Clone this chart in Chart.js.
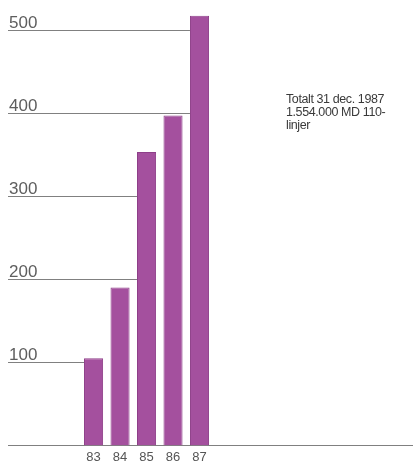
<!DOCTYPE html>
<html>
<head>
<meta charset="utf-8">
<script src="https://cdn.jsdelivr.net/npm/chart.js@4/dist/chart.umd.min.js"></script>
<style>
  html, body { margin: 0; padding: 0; background: #fff; }
  #wrap { position: relative; width: 413px; height: 463px; }
  #note {
    position: absolute; left: 286px; top: 93px;
    font-family: "Liberation Sans", Arial, sans-serif; font-size: 12.5px;
    line-height: 13px; color: #3a3a3a; letter-spacing: -0.4px;
  }
</style>
</head>
<body>
<div id="wrap">
  <canvas id="chart" width="413" height="463"></canvas>
  <div id="note">Totalt 31 dec. 1987<br>1.554.000 MD 110-<br>linjer</div>
</div>
<script>
const years = ['83', '84', '85', '86', '87'];
const lines = [105, 190, 353, 397, 517];
const yTicks = [0, 100, 200, 300, 400, 500];

const barColor = '#a4509e';
const lineColor = '#808080';

// grid lines run from the left edge up to the first bar tall enough to cover them,
// tick labels sit just above each line
const gridPlugin = {
  id: 'stopGrid',
  beforeDatasetsDraw(chart) {
    const ctx = chart.ctx;
    const y = chart.scales.y;
    const left = chart.chartArea.left;
    const bars = chart.getDatasetMeta(0).data;
    ctx.save();
    ctx.strokeStyle = lineColor;
    ctx.lineWidth = 1;
    ctx.fillStyle = '#5e5e5e';
    ctx.font = '17px "Liberation Sans", Arial, sans-serif';
    ctx.textBaseline = 'alphabetic';
    yTicks.forEach(v => {
      const py = Math.round(y.getPixelForValue(v)) + 0.5;
      let xEnd = chart.width;
      if (v > 0) {
        const i = lines.findIndex(d => d >= v);
        xEnd = i >= 0 ? bars[i].x - bars[i].width / 2 : chart.width;
        ctx.fillText(String(v), left + 1, py - 3);
      }
      ctx.beginPath();
      ctx.moveTo(left, py);
      ctx.lineTo(xEnd, py);
      ctx.stroke();
    });
    ctx.restore();
  }
};

new Chart(document.getElementById('chart').getContext('2d'), {
  type: 'bar',
  data: {
    datasets: [{
      data: years.map((yr, i) => ({ x: Number(yr), y: lines[i] })),
      backgroundColor: barColor,
      borderColor: '#8e3f89',
      borderWidth: 1,
      barPercentage: 0.72,
      categoryPercentage: 1
    }]
  },
  options: {
    responsive: false,
    animation: false,
    layout: { padding: { left: 8, right: 0, top: 0, bottom: 2 } },
    plugins: { legend: { display: false }, tooltip: { enabled: false } },
    scales: {
      x: {
        type: 'linear',
        offset: false,
        min: 79.77,
        max: 95.06,
        afterBuildTicks: axis => { axis.ticks = years.map(v => ({ value: Number(v) })); },
        grid: { display: false },
        border: { display: false },
        ticks: {
          autoSkip: false,
          maxRotation: 0,
          padding: -4,
          color: '#555',
          font: { family: 'Liberation Sans', size: 13 },
          callback: v => String(v)
        }
      },
      y: {
        display: false,
        min: 0,
        max: 536,
        afterBuildTicks: axis => { axis.ticks = yTicks.map(v => ({ value: v })); }
      }
    }
  },
  plugins: [gridPlugin]
});
</script>
</body>
</html>
